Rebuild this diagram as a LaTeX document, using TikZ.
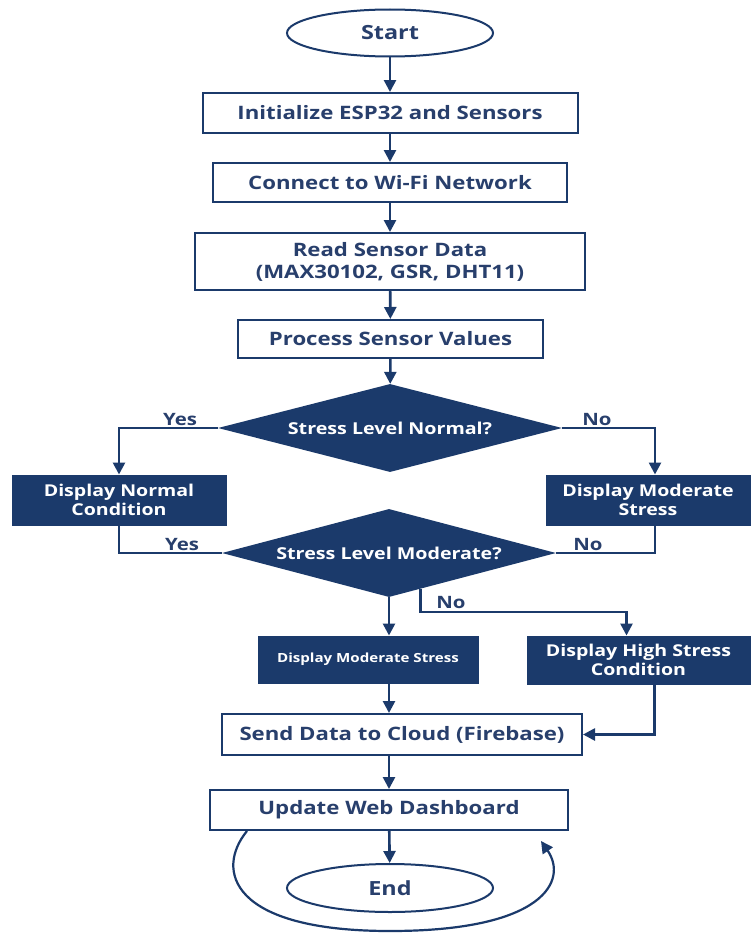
\documentclass[tikz,border=0pt]{standalone}
\usepackage{fontspec}
\setmainfont{Open Sans}[FakeStretch=1.2]
\usetikzlibrary{shapes.geometric,arrows.meta,calc}
\definecolor{navy}{HTML}{1B3A6B}
\definecolor{ink}{HTML}{283F6C}
\begin{document}
\begin{tikzpicture}[x=1pt,y=-1pt,
 base/.style={font=\fontsize{18.5}{22}\selectfont\bfseries, align=center, inner sep=0pt},
 proc/.style={base, rectangle, draw=navy, line width=2pt, fill=white, text=ink},
 dproc/.style={base, rectangle, draw=navy, fill=navy, text=white, line width=1pt, font=\fontsize{16.3}{19.5}\selectfont\bfseries},
 term/.style={base, ellipse, draw=navy, line width=2pt, text=ink, minimum width=206pt, minimum height=47pt, font=\fontsize{19.5}{22}\selectfont\bfseries},
 dec/.style={base, diamond, aspect=4, fill=navy, text=white, minimum width=344pt, minimum height=88pt, font=\fontsize{16.4}{19}\selectfont\bfseries},
 lab/.style={font=\fontsize{17}{20}\selectfont\bfseries, text=ink, inner sep=0pt},
 arr/.style={line width=2.6pt, draw=navy, -{Triangle[length=12pt,width=12pt]}},
 ln/.style={line width=2.2pt, draw=navy},
]
\fill[white] (0,0) rectangle (754,934);
\useasboundingbox (0,0) rectangle (754,934);

\node[term] (start) at (390,33) {Start};
\node[proc, minimum width=375pt, minimum height=40pt] (init) at (390,113) {Initialize ESP32 and Sensors};
\node[proc, minimum width=354pt, minimum height=39pt] (conn) at (390,182.5) {Connect to Wi-Fi Network};
\node[proc, minimum width=390pt, minimum height=57pt] (read) at (390,261.5) {Read Sensor Data\\(MAX30102, GSR, DHT11)};
\node[proc, minimum width=305pt, minimum height=38pt] (proc) at (390.5,339) {Process Sensor Values};
\node[dec] (d1) at (390,428) {Stress Level Normal?};
\node[dproc, minimum width=214pt, minimum height=50pt] (dn) at (119,500) {Display Normal\\Condition};
\node[dproc, minimum width=204pt, minimum height=50pt] (dm) at (648,500) {Display Moderate\\Stress};
\node[dec, minimum width=334pt] (d2) at (389,553) {Stress Level Moderate?};
\node[dproc, minimum width=220pt, minimum height=47pt, font=\fontsize{12.6}{15}\selectfont\bfseries] (lm) at (368,659.5) {Display Moderate Stress};
\node[dproc, minimum width=223pt, minimum height=48pt] (hs) at (638.5,660) {Display High Stress\\Condition};
\node[proc, minimum width=360pt, minimum height=41pt] (send) at (402,734.5) {Send Data to Cloud (Firebase)};
\node[proc, minimum width=358pt, minimum height=40pt] (upd) at (389,810) {Update Web Dashboard};
\node[term, minimum height=48pt] (end) at (390,888) {End};

\node[lab] (y1) at (180,420) {Yes};
\node[lab] (n1) at (597,420) {No};
\node[lab] (y2) at (182,545) {Yes};
\node[lab] (n2) at (588,545) {No};
\node[lab] (n3) at (451,603) {No};

\draw[arr] (start) -- (init);
\draw[arr] (init) -- (conn);
\draw[arr] (conn) -- (read);
\draw[arr] (read) -- (proc);
\draw[arr] (proc) -- (d1);
\draw[arr] (d1.west) -| (dn.north);
\coordinate (dmtop) at ($(dm.north)+(7,0)$);
\draw[arr] (d1.east) -| (dmtop);
\draw[ln] (dn.south) |- (d2.west);
\draw[ln] (dmtop |- dm.south) |- (d2.east);
\draw[arr] (d2.south) -- (d2.south |- lm.north);
\coordinate (nostart) at ($(d2.south)!0.19!(d2.east)$);
\coordinate (nomid) at (0,612);
\coordinate (hstop) at ($(hs.north)+(-12,0)$);
\draw[arr] (nostart) -- (nostart |- nomid) -| (hstop);
\draw[arr] (lm.south -| d2.south) -- (send.north -| d2.south);
\coordinate (hsb) at ($(hs.south)+(16,0)$);
\draw[arr] (hsb) |- (send.east);
\draw[arr] (send.south -| d2.south) -- (upd.north -| d2.south);
\draw[arr] (upd) -- (end);
\coordinate (ls) at ($(upd.south west)+(38,0)$);
\coordinate (le) at ($(upd.south east)+(-28,10)$);
\draw[arr, line width=2.2pt] (ls) .. controls (215,870) and (230,931) .. (390,931) .. controls (545,931) and (568,880) .. (le);
\end{tikzpicture}
\end{document}
